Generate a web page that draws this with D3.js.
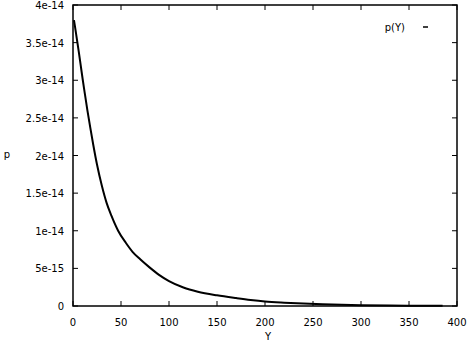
<!DOCTYPE html>
<html>
<head>
<meta charset="utf-8">
<script src="https://d3js.org/d3.v7.min.js"></script>
<style>
  body { margin: 0; background: #fff; }
  text { font-family: "DejaVu Sans", sans-serif; font-size: 10px; fill: #000; }
</style>
</head>
<body>
<div id="chart"></div>
<script>
// values
var yVals = [1, 2, 4, 6, 8, 10, 12, 15, 18, 21, 25, 30, 35, 40, 47, 55, 62, 70, 80, 90, 100,
             115, 130, 150, 170, 185, 200, 220, 240, 260, 280, 300, 330, 360, 385];
var pVals = [3.8e-14, 3.72e-14, 3.55e-14, 3.38e-14, 3.2e-14, 3.02e-14, 2.85e-14, 2.6e-14, 2.37e-14,
             2.15e-14, 1.88e-14, 1.6e-14, 1.37e-14, 1.2e-14, 1.0e-14, 8.4e-15, 7.2e-15, 6.2e-15,
             5.1e-15, 4.1e-15, 3.3e-15, 2.45e-15, 1.9e-15, 1.42e-15, 1.05e-15, 8.0e-16, 6.0e-16,
             4.4e-16, 3.2e-16, 2.2e-16, 1.5e-16, 1.0e-16, 6e-17, 4e-17, 2e-17];
var xTicks = [0, 50, 100, 150, 200, 250, 300, 350, 400];
var yTicks = [0, 5e-15, 1e-14, 1.5e-14, 2e-14, 2.5e-14, 3e-14, 3.5e-14, 4e-14];
var yTickLabels = ["0", "5e-15", "1e-14", "1.5e-14", "2e-14", "2.5e-14", "3e-14", "3.5e-14", "4e-14"];

var W = 467, H = 345;
var pLeft = 73, pRight = 457, pTop = 5, pBottom = 306;

var svg = d3.select("#chart").append("svg")
  .attr("width", W).attr("height", H);

var x = d3.scaleLinear().domain([0, 400]).range([pLeft, pRight]);
var y = d3.scaleLinear().domain([0, 4e-14]).range([pBottom, pTop]);

// mirrored ticks, all pointing inward
var tl = 5;
var g = svg.append("g").attr("stroke", "#000").attr("stroke-width", 1);
xTicks.forEach(function(t) {
  g.append("line").attr("x1", x(t)).attr("x2", x(t)).attr("y1", pBottom).attr("y2", pBottom - tl);
  g.append("line").attr("x1", x(t)).attr("x2", x(t)).attr("y1", pTop).attr("y2", pTop + tl);
});
yTicks.forEach(function(t) {
  g.append("line").attr("x1", pLeft).attr("x2", pLeft + tl).attr("y1", y(t)).attr("y2", y(t));
  g.append("line").attr("x1", pRight).attr("x2", pRight - tl).attr("y1", y(t)).attr("y2", y(t));
});

// tick labels
svg.selectAll(".xl").data(xTicks).enter().append("text")
  .attr("x", function(d) { return x(d); })
  .attr("y", 326)
  .attr("text-anchor", "middle")
  .text(function(d) { return d; });
svg.selectAll(".yl").data(yTicks).enter().append("text")
  .attr("x", 64)
  .attr("y", function(d) { return y(d) + 4; })
  .attr("text-anchor", "end")
  .text(function(d, i) { return yTickLabels[i]; });

// axis titles
svg.append("text").attr("x", 268).attr("y", 340).attr("text-anchor", "middle").text("Y");
svg.append("text").attr("x", 7).attr("y", 158).attr("text-anchor", "middle").text("p");

// curve
var data = yVals.map(function(v, i) { return [v, pVals[i]]; });
var line = d3.line()
  .curve(d3.curveMonotoneX)
  .x(function(d) { return x(d[0]); })
  .y(function(d) { return y(d[1]); });
svg.append("path").datum(data)
  .attr("d", line)
  .attr("fill", "none")
  .attr("stroke", "#000")
  .attr("stroke-width", 2);

// frame
svg.append("rect")
  .attr("x", pLeft).attr("y", pTop)
  .attr("width", pRight - pLeft).attr("height", pBottom - pTop)
  .attr("fill", "none").attr("stroke", "#000").attr("stroke-width", 1.5);

// legend
svg.append("text").attr("x", 405).attr("y", 31).attr("text-anchor", "end").text("p(Y)");
svg.append("line").attr("x1", 423).attr("x2", 428).attr("y1", 27).attr("y2", 27)
  .attr("stroke", "#000").attr("stroke-width", 1.5);
</script>
</body>
</html>
